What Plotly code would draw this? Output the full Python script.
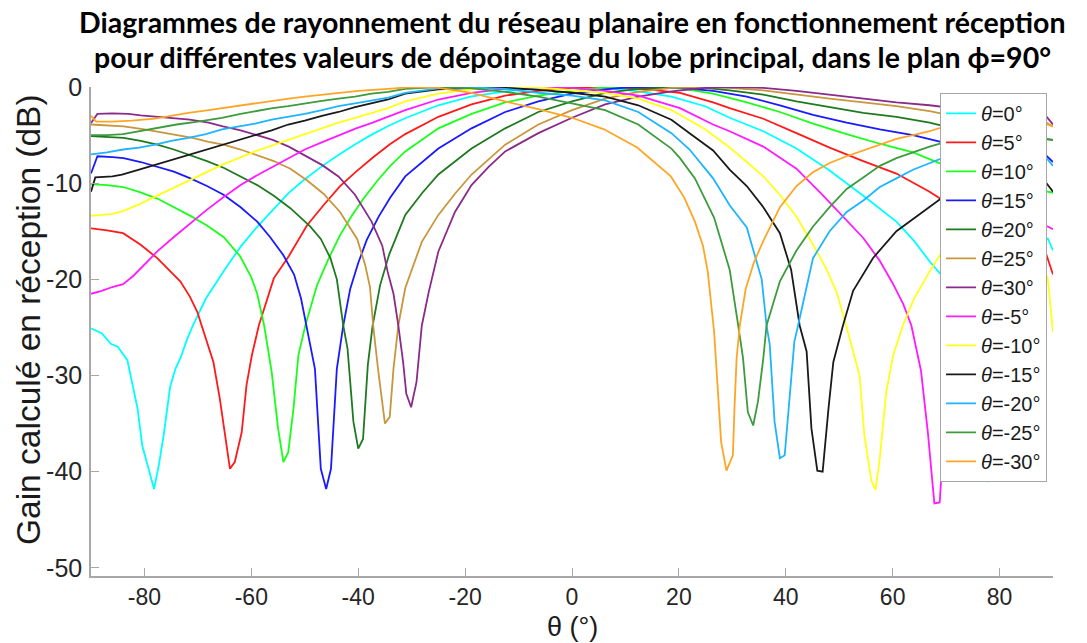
import plotly.graph_objects as go

# Gain curves (theta in degrees, gain in dB)
th_p0 = [-90, -88, -86.3, -85, -83.2, -82.3, -81.3, -80.4, -79.2, -78.2, -77.3, -76.4, -75.2, -74.2, -73.2,
         -72, -71, -68.5, -65, -62, -59, -56, -53, -50, -46.7, -43.5, -40.4, -37.3, -34.2, -31,
         -25, -19, -12.5, -6.3, 0, 6.2, 12.4, 18.6, 24.9, 29.5, 35.8, 42, 48, 54.5, 60.7,
         64, 67, 69.5, 71.5, 74, 76, 77.8, 79, 81, 84, 87, 89, 90]
g_p0 = [-25.1, -25.6, -26.7, -27.0, -28.4, -30.7, -33.4, -37.3, -39.7, -41.8, -39.3, -36.2, -31.2, -29.3, -28.1,
        -26.2, -24.9, -22.0, -19.0, -16.6, -14.6, -12.8, -11.0, -9.6, -8.2, -7.0, -5.9, -4.9, -4.0, -3.2,
        -1.9, -1.0, -0.45, -0.1, 0, -0.1, -0.45, -1.0, -2.0, -3.2, -4.6, -6.4, -8.6, -11.3, -14.0,
        -16.0, -18.2, -19.8, -21.2, -26.0, -32.0, -41.1, -36.5, -29.0, -21.5, -17.5, -15.7, -17.0]

th_p5 = [-90, -87, -84, -80.7, -77.6, -75.5, -73.3, -71.5, -70.1, -69.3, -67.1, -65.9, -64.0, -63.1, -61.8,
         -60.9, -59.9, -58.6, -57, -55.8, -53, -49.6, -46.5, -43.4, -40.4, -37.2, -34.2, -31.2, -25, -18.8,
         -12.5, -6.3, 0, 5, 10, 15, 20.2, 26.4, 29.5, 35.8, 42, 48.2, 54.5, 60.7, 66.9,
         72, 76, 80, 84, 88.5, 90]
g_p5 = [-14.7, -14.9, -15.2, -16.4, -17.8, -19.0, -20.2, -21.8, -23.4, -24.8, -28.6, -32.4, -39.7, -39.0, -35.9,
        -31.0, -27.9, -24.8, -22.0, -19.9, -17.6, -14.4, -12.3, -10.3, -8.8, -7.3, -6.0, -4.9, -3.1, -1.8,
        -0.9, -0.4, -0.1, 0, -0.1, -0.3, -0.6, -1.6, -2.2, -3.3, -4.8, -6.3, -7.7, -9.0, -10.9,
        -12.7, -13.8, -14.8, -15.8, -17.0, -19.5]

th_p10 = [-90, -87, -84, -81, -77.6, -74.5, -71.4, -68.3, -65.2, -62.1, -60, -58.9, -57.6, -56.2, -55.0,
          -54.0, -53.1, -52.1, -51.2, -49.9, -47.7, -45.5, -43.4, -41.2, -39.0, -36.5, -34.0, -31.2, -25, -18.8,
          -12.5, -6.3, 0, 5, 10, 15, 20.2, 26.4, 32.7, 38.9, 45.1, 51.4, 57.6, 63.8, 70,
          75, 80, 85, 90]
g_p10 = [-10.1, -10.2, -10.4, -10.9, -11.6, -12.5, -13.4, -14.4, -15.6, -17.6, -19.8, -21.5, -24.8, -29.6, -35.5,
         -39.0, -38.0, -33.4, -27.9, -24.8, -20.6, -17.8, -15.4, -13.4, -11.6, -9.8, -8.2, -6.7, -4.3, -2.8,
         -1.6, -0.9, -0.4, -0.1, 0, -0.05, -0.15, -0.7, -1.6, -2.6, -3.8, -4.9, -5.9, -6.8, -8.2,
         -9.0, -9.8, -10.4, -11.0]

th_p15 = [-90, -88.8, -86, -83.9, -80.7, -77.6, -74.5, -71.4, -68.3, -65.2, -62, -58.9, -56.5, -54.0, -52,
          -50.7, -49.7, -48.1, -47.0, -46.0, -45.1, -44.0, -42.8, -41.5, -40, -38.4, -36.2, -34.0, -31.2, -25,
          -18.8, -12.5, -6.3, 0, 6.2, 10, 15, 20.2, 26.4, 32.7, 38.9, 45.1, 51.4, 57.6, 63.8,
          70, 75, 80, 85, 88.5, 90]
g_p15 = [-9.0, -7.2, -7.3, -7.4, -7.8, -8.3, -8.8, -9.5, -10.3, -11.2, -12.5, -14.0, -15.6, -17.5, -19.5,
         -22.0, -24.8, -29.3, -39.7, -41.8, -39.7, -29.3, -24.8, -21.0, -18.3, -15.9, -13.5, -11.5, -9.3, -6.4,
         -4.3, -2.6, -1.5, -0.7, -0.25, -0.05, 0, -0.1, -0.4, -1.0, -1.9, -2.9, -3.7, -4.4, -5.0,
         -5.8, -6.5, -6.8, -6.9, -7.0, -7.8]

th_p20 = [-90, -87, -83.9, -80.7, -77.6, -74.5, -71.4, -68.3, -65.2, -62, -58.9, -55.8, -52.7, -49, -47,
          -45.2, -44, -42.8, -42.0, -40.9, -40.0, -39.1, -38.2, -37.3, -35.9, -34.2, -32.5, -31.2, -28, -25,
          -18.8, -12.5, -6.3, 0, 6.2, 12.4, 20, 24.9, 29.5, 35.8, 42, 48.2, 54.5, 60.7, 66.9,
          71.3, 76, 80, 85, 90]
g_p20 = [-5.1, -5.2, -5.3, -5.6, -6.0, -6.5, -7.1, -7.7, -8.4, -9.3, -10.2, -11.3, -12.6, -14.5, -15.8,
         -17.8, -20.0, -24.8, -27.2, -34.8, -37.6, -36.6, -28.9, -24.8, -20.6, -17.4, -15.0, -13.3, -11.0, -9.1,
         -6.4, -4.3, -2.6, -1.5, -0.6, -0.2, 0, -0.1, -0.35, -0.8, -1.5, -2.1, -2.7, -3.1, -3.7,
         -4.3, -4.7, -5.0, -5.2, -5.5]

th_p25 = [-90, -87, -83.9, -80, -77, -74, -71, -68, -65.2, -62, -58.9, -55.8, -52.7, -49.6, -46.5,
          -43.4, -40.2, -38.7, -37.8, -37.2, -36.3, -35.0, -34.1, -33.4, -32.5, -31.2, -28.1, -25, -21.9, -18.8,
          -12.5, -6.3, 0, 6.2, 12.4, 18.6, 25, 29.5, 35.8, 42, 48.2, 54.5, 60.7, 66.9, 71.3,
          76, 80, 85, 88.5, 90]
g_p25 = [-3.9, -4.0, -4.1, -4.4, -4.7, -5.0, -5.3, -5.7, -6.0, -6.5, -7.1, -7.7, -8.5, -9.7, -11.1,
         -13.0, -15.8, -18.5, -20.8, -24.8, -29.3, -35.0, -34.3, -29.3, -24.8, -20.9, -16.1, -13.3, -11.1, -9.1,
         -6.0, -3.9, -2.4, -1.2, -0.5, -0.1, 0, -0.1, -0.35, -0.8, -1.2, -1.6, -2.0, -2.5, -3.0,
         -3.3, -3.4, -3.5, -3.6, -4.1]

th_p30 = [-90, -88.8, -86, -83, -80.7, -77, -74, -71.5, -68, -65.3, -62, -59.1, -56, -53, -50,
          -46.8, -43.7, -40.6, -37.5, -35.5, -34.5, -33.4, -32.5, -31.6, -31.0, -30.1, -29.1, -28.1, -26.8, -25,
          -21.9, -18.8, -15.6, -12.5, -6.3, 0, 6.2, 12.4, 18.6, 24.9, 30, 35.8, 42, 48.2, 54.5,
          60.7, 66.9, 71.3, 76, 80, 85, 88.5, 90]
g_p30 = [-3.75, -2.8, -2.75, -2.8, -2.95, -3.1, -3.25, -3.4, -3.7, -4.1, -4.5, -5.0, -5.5, -6.2, -7.1,
         -8.1, -9.3, -11.2, -14.0, -16.5, -19.2, -21.5, -24.8, -28.6, -31.9, -33.3, -30.7, -24.8, -21.3, -17.1,
         -13.0, -10.2, -8.3, -6.7, -4.8, -3.2, -1.8, -1.0, -0.45, -0.1, 0, -0.1, -0.4, -0.8, -1.2,
         -1.6, -1.9, -2.2, -2.5, -2.65, -2.75, -2.9, -3.9]

th_m5 = [-90, -88, -86, -84, -82, -80, -77.6, -74.5, -71.5, -68.4, -65.3, -62, -59, -56, -53,
         -50, -46.6, -43.5, -40.4, -37.3, -34.2, -31.2, -25, -18.8, -12.5, -5, 0, 6.2, 12.4, 20.2,
         26.4, 29.5, 35.8, 42, 47, 51, 54.5, 57.5, 60, 62, 63.5, 65.3, 66.6, 67.8, 68.8,
         69.7, 70.7, 72, 75, 80, 85, 89, 90]
g_m5 = [-21.5, -21.2, -20.8, -20.5, -19.6, -18.5, -17.1, -15.6, -14.2, -12.8, -11.5, -10.2, -9.2, -8.3, -7.4,
        -6.5, -5.7, -5.0, -4.3, -3.7, -3.0, -2.4, -1.3, -0.6, -0.2, 0, -0.1, -0.4, -0.9, -2.2,
        -3.9, -4.6, -6.2, -8.5, -11.3, -13.6, -15.7, -18.0, -20.4, -22.6, -24.8, -29.5, -36.0, -43.3, -43.2,
        -35.2, -30.0, -26.5, -21.5, -17.5, -15.3, -14.5, -14.8]

th_m10 = [-90, -86, -84, -81, -78, -75, -71.8, -68.5, -65.5, -62.4, -59.3, -56.2, -53.1, -50, -46.8,
          -43.7, -40.6, -37.5, -34.4, -31.2, -25, -18.8, -10, -6.3, 0, 6.2, 12.4, 18.6, 24.9, 29.5,
          32.7, 35.8, 38.9, 42, 45.1, 47.5, 49.5, 51.3, 53.8, 54.7, 56.0, 56.8, 57.6, 58.8, 60.1,
          61.9, 64, 66.9, 71.3, 75, 80, 85, 89, 90]
g_m10 = [-13.4, -13.2, -12.9, -12.2, -11.4, -10.6, -9.8, -8.9, -8.1, -7.4, -6.7, -6.1, -5.5, -4.9, -4.3,
         -3.7, -3.2, -2.7, -2.2, -1.5, -0.7, -0.25, 0, -0.05, -0.3, -0.6, -1.2, -2.4, -4.4, -6.3,
         -7.8, -9.3, -11.2, -13.5, -16.4, -18.8, -21.3, -24.8, -30.0, -36.2, -40.9, -41.9, -38.6, -31.7, -27.9,
         -24.8, -22.0, -19.2, -15.3, -14.2, -14.5, -16.5, -19.8, -25.5]

th_m15 = [-90, -89.2, -86, -84.2, -81, -78, -75, -71.8, -68.5, -65.5, -62.4, -59.3, -56.2, -53.1, -50,
          -46.8, -43.7, -40.6, -37.5, -34.4, -31.2, -25, -15, -6.3, 0, 6.2, 12.4, 18.6, 22, 26.4,
          29.5, 32.7, 35.8, 38.9, 41, 42.6, 43.9, 44.8, 45.9, 46.9, 48.0, 48.9, 50.7, 52.6, 56.3,
          60.7, 65.1, 70, 75, 80, 85, 88.5, 90]
g_m15 = [-10.9, -9.4, -9.3, -9.1, -8.6, -8.1, -7.6, -7.1, -6.5, -6.0, -5.5, -5.0, -4.5, -3.9, -3.5,
         -3.0, -2.6, -2.1, -1.7, -1.3, -0.7, -0.25, 0, -0.3, -0.6, -1.0, -1.9, -3.4, -4.8, -6.6,
         -8.6, -10.3, -12.5, -15.2, -19.0, -24.8, -27.5, -35.5, -39.9, -40.0, -33.4, -28.6, -24.8, -21.2, -17.8,
         -15.0, -13.2, -11.2, -9.9, -9.3, -9.3, -9.8, -10.9]

th_m20 = [-90, -87, -84, -81, -78, -75, -71.8, -68.5, -65.5, -62.4, -59.3, -56.2, -53.1, -50, -46.8,
          -43.7, -40.6, -37.5, -34.4, -31.2, -25, -20, -12.5, -6.3, 0, 6.2, 12.4, 18.6, 22, 26.4,
          29.5, 32.7, 35.5, 36.4, 37.0, 37.9, 38.9, 39.8, 40.8, 41.6, 42.3, 45.1, 48.2, 51.4, 54.5,
          57.6, 60.7, 63.8, 67, 71, 75, 80, 85, 88.5, 90]
g_m20 = [-7.0, -6.8, -6.5, -6.3, -6.0, -5.6, -5.3, -4.9, -4.4, -4.1, -3.8, -3.4, -3.1, -2.8, -2.4,
         -2.0, -1.7, -1.4, -1.1, -0.6, -0.15, 0, -0.2, -0.6, -0.9, -1.4, -2.6, -4.8, -6.5, -9.5,
         -12.3, -14.6, -20.0, -24.8, -26.8, -34.8, -38.6, -38.3, -31.7, -26.5, -24.8, -17.8, -15.0, -13.0, -11.8,
         -10.4, -9.5, -8.6, -7.9, -7.0, -6.6, -6.4, -6.6, -7.2, -8.2]

th_m25 = [-90, -87, -84, -81, -78, -74, -70, -65.5, -62, -59, -56, -53.1, -50, -46.8, -43.7,
          -40.6, -37.5, -34.4, -31.2, -25, -18.8, -12.5, -6.3, 0, 6.2, 12.4, 18.6, 20.2, 23, 26.6,
          29.5, 31.1, 32.0, 32.9, 33.9, 34.8, 35.8, 36.4, 38.9, 42, 45.1, 48.2, 51.4, 54.5, 57.6,
          60.7, 63.8, 66.9, 71.3, 76, 80, 85, 90]
g_m25 = [-5.0, -5.0, -4.9, -4.6, -4.3, -3.9, -3.6, -3.2, -2.8, -2.5, -2.2, -2.0, -1.7, -1.45, -1.2,
         -1.0, -0.7, -0.5, -0.2, 0, -0.15, -0.5, -1.0, -1.7, -2.4, -3.9, -6.4, -7.4, -9.5, -13.6,
         -19.0, -24.8, -28.2, -33.8, -35.2, -32.7, -28.2, -24.8, -20.2, -17.0, -14.5, -12.5, -10.6, -9.4, -8.2,
         -7.4, -6.8, -6.2, -5.5, -5.2, -5.1, -5.2, -5.5]

th_m30 = [-90, -89, -86, -82.4, -78, -75, -71.8, -68, -65.5, -62, -59.3, -56, -53, -50, -46.8,
          -43.5, -40, -34.4, -30, -25, -18.8, -12.5, -6.3, 0, 6, 12.2, 18.5, 21, 23, 24.5,
          25.4, 26.6, 27.3, 27.9, 28.9, 29.5, 30.1, 30.4, 30.8, 31.4, 32.5, 34, 35.8, 38.9, 42,
          45, 48.2, 51.4, 54.5, 57.6, 60.7, 63.8, 66.9, 71, 76, 80, 85, 88.5, 90]
g_m30 = [-3.0, -3.6, -3.6, -3.5, -3.3, -3.0, -2.7, -2.4, -2.2, -1.9, -1.7, -1.4, -1.2, -1.0, -0.8,
         -0.6, -0.4, -0.2, 0, -0.1, -0.6, -1.5, -2.3, -3.2, -4.4, -6.3, -9.3, -11.5, -14.0, -16.5,
         -19.2, -25.5, -31.7, -36.9, -39.9, -39.0, -38.3, -33.4, -28.2, -24.8, -21.0, -18.3, -16.0, -12.5, -10.3,
         -8.9, -7.9, -7.2, -6.6, -6.0, -5.4, -5.0, -4.6, -3.9, -3.7, -3.6, -3.7, -3.8, -4.1]

steering = ["0", "5", "10", "15", "20", "25", "30", "-5", "-10", "-15", "-20", "-25", "-30"]
thetas = [th_p0, th_p5, th_p10, th_p15, th_p20, th_p25, th_p30, th_m5, th_m10, th_m15, th_m20, th_m25, th_m30]
gains = [g_p0, g_p5, g_p10, g_p15, g_p20, g_p25, g_p30, g_m5, g_m10, g_m15, g_m20, g_m25, g_m30]
colors = ["#00ffff", "#ff1a1a", "#1aff1a", "#1a1aff", "#1f7a1f", "#c8963c", "#8a2a8a",
          "#ff1aff", "#ffff1a", "#1a1a1a", "#1eb4ff", "#3c9c3c", "#ffa526"]

x_ticks = [-80, -60, -40, -20, 0, 20, 40, 60, 80]
x_ticklabels = ["-80", "-60", "-40", "-20", "0", "20", "40", "60", "80"]
y_ticks = [-50, -40, -30, -20, -10, 0]
y_ticklabels = ["-50", "-40", "-30", "-20", "-10", "0"]

fig = go.Figure()
for s, th, g, c in zip(steering, thetas, gains, colors):
    fig.add_trace(go.Scatter(x=th, y=g, mode="lines", name="<i>θ</i>=" + s + "°",
                             line=dict(color=c, width=1.8)))

axis_col = "#a8a8a8"
fig.update_layout(
    width=1087, height=643,
    margin=dict(l=91, r=34, t=87, b=67),
    paper_bgcolor="white", plot_bgcolor="white",
    font=dict(family="Liberation Sans, Arial", color="#262626"),
    showlegend=True,
    legend=dict(x=0.9938, y=0.988, xanchor="right", yanchor="top",
                bgcolor="white", bordercolor="#a6a6a6", borderwidth=1,
                font=dict(size=20, color="#1a1a1a"), itemwidth=30, tracegroupgap=0),
    xaxis=dict(range=[-90, 90], tickvals=x_ticks, ticktext=x_ticklabels, automargin=False,
               ticks="inside", ticklen=8, tickcolor=axis_col, showline=True, linecolor=axis_col,
               linewidth=1.5, showgrid=False, zeroline=False, mirror=False,
               tickfont=dict(size=23, color="#262626"), ticklabelstandoff=0),
    yaxis=dict(range=[-50.85, 0], tickvals=y_ticks, ticktext=y_ticklabels, automargin=False,
               ticks="inside", ticklen=8, tickcolor=axis_col, showline=True, linecolor=axis_col,
               linewidth=1.5, showgrid=False, zeroline=False, mirror=False,
               tickfont=dict(size=25, color="#262626"), ticklabelstandoff=2),
)

# Axis titles
fig.add_annotation(text="θ (°)", xref="paper", yref="paper", x=0.5, y=0, yshift=-51, yanchor="middle",
                   showarrow=False, font=dict(size=27, color="#1a1a1a"))
fig.add_annotation(text="Gain calculé en réception (dB)", xref="paper", yref="paper", x=0, y=0.5235,
                   xshift=-63, xanchor="center", yanchor="middle", textangle=-90, showarrow=False,
                   font=dict(size=33.5, color="#1a1a1a"))

# Two-line bold title
fig.add_annotation(text="<b>Diagrammes de rayonnement du réseau planaire en fonctionnement réception</b>",
                   xref="paper", yref="paper", x=0.5, y=1, yshift=65, yanchor="middle", showarrow=False,
                   font=dict(family="Lato, Open Sans", size=28.5, color="black"))
fig.add_annotation(text="<b>pour différentes valeurs de dépointage du lobe principal, dans le plan ϕ=90°</b>",
                   xref="paper", yref="paper", x=0.5, y=1, yshift=30, yanchor="middle", showarrow=False,
                   font=dict(family="Lato, Open Sans", size=28.5, color="black"))

# the page's default body margin would shift the figure by 8px
fig.write_html("out.html", config={"displayModeBar": False},
               post_script="document.body.style.margin='0';")
